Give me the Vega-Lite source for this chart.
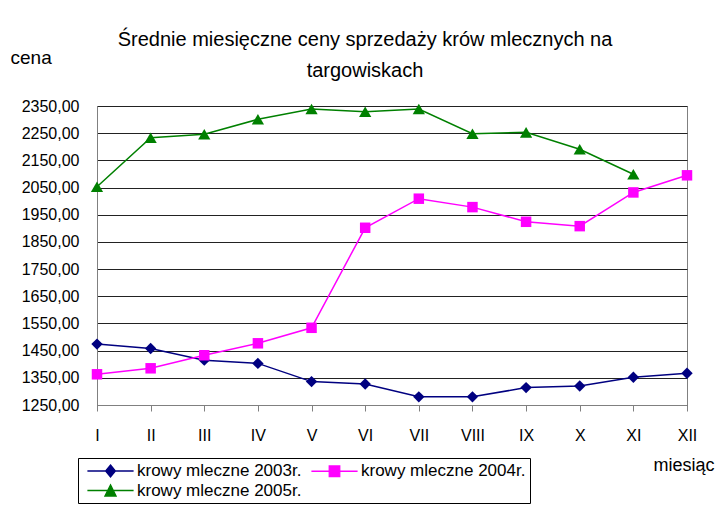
{
  "$schema": "https://vega.github.io/schema/vega-lite/v6.json",
  "width": 590,
  "height": 299,
  "autosize": "none",
  "padding": {"left": 97, "top": 106, "right": 30, "bottom": 105},
  "background": "white",
  "title": {
    "text": ["Średnie miesięczne ceny sprzedaży krów mlecznych na", "targowiskach"],
    "font": "Liberation Sans",
    "fontSize": 20,
    "fontWeight": "normal",
    "color": "black",
    "anchor": "middle",
    "dx": -27,
    "offset": -33,
    "lineHeight": 31
  },
  "data": {
    "values": [
      {"m": "I", "s": "krowy mleczne 2003r.", "v": 1474},
      {"m": "II", "s": "krowy mleczne 2003r.", "v": 1458},
      {"m": "III", "s": "krowy mleczne 2003r.", "v": 1415},
      {"m": "IV", "s": "krowy mleczne 2003r.", "v": 1403},
      {"m": "V", "s": "krowy mleczne 2003r.", "v": 1336},
      {"m": "VI", "s": "krowy mleczne 2003r.", "v": 1327},
      {"m": "VII", "s": "krowy mleczne 2003r.", "v": 1280},
      {"m": "VIII", "s": "krowy mleczne 2003r.", "v": 1280},
      {"m": "IX", "s": "krowy mleczne 2003r.", "v": 1314},
      {"m": "X", "s": "krowy mleczne 2003r.", "v": 1320},
      {"m": "XI", "s": "krowy mleczne 2003r.", "v": 1352},
      {"m": "XII", "s": "krowy mleczne 2003r.", "v": 1367},
      {"m": "I", "s": "krowy mleczne 2004r.", "v": 1363},
      {"m": "II", "s": "krowy mleczne 2004r.", "v": 1385},
      {"m": "III", "s": "krowy mleczne 2004r.", "v": 1433},
      {"m": "IV", "s": "krowy mleczne 2004r.", "v": 1477},
      {"m": "V", "s": "krowy mleczne 2004r.", "v": 1534},
      {"m": "VI", "s": "krowy mleczne 2004r.", "v": 1902},
      {"m": "VII", "s": "krowy mleczne 2004r.", "v": 2009},
      {"m": "VIII", "s": "krowy mleczne 2004r.", "v": 1978},
      {"m": "IX", "s": "krowy mleczne 2004r.", "v": 1924},
      {"m": "X", "s": "krowy mleczne 2004r.", "v": 1908},
      {"m": "XI", "s": "krowy mleczne 2004r.", "v": 2032},
      {"m": "XII", "s": "krowy mleczne 2004r.", "v": 2095},
      {"m": "I", "s": "krowy mleczne 2005r.", "v": 2053},
      {"m": "II", "s": "krowy mleczne 2005r.", "v": 2233},
      {"m": "III", "s": "krowy mleczne 2005r.", "v": 2246},
      {"m": "IV", "s": "krowy mleczne 2005r.", "v": 2301},
      {"m": "V", "s": "krowy mleczne 2005r.", "v": 2339},
      {"m": "VI", "s": "krowy mleczne 2005r.", "v": 2329},
      {"m": "VII", "s": "krowy mleczne 2005r.", "v": 2339},
      {"m": "VIII", "s": "krowy mleczne 2005r.", "v": 2248},
      {"m": "IX", "s": "krowy mleczne 2005r.", "v": 2253},
      {"m": "X", "s": "krowy mleczne 2005r.", "v": 2191},
      {"m": "XI", "s": "krowy mleczne 2005r.", "v": 2099}
    ]
  },
  "encoding": {
    "x": {
      "field": "m",
      "type": "ordinal",
      "sort": ["I", "II", "III", "IV", "V", "VI", "VII", "VIII", "IX", "X", "XI", "XII"],
      "scale": {"type": "point", "padding": 0},
      "axis": {
        "title": "miesiąc",
        "titleFont": "Liberation Sans",
        "titleFontSize": 18,
        "titleFontWeight": "normal",
        "titleColor": "black",
        "titleX": 556,
        "titleY": 60,
        "titleAlign": "left",
        "titleBaseline": "middle",
        "labelAngle": 0,
        "labelFont": "Liberation Sans",
        "labelFontSize": 16,
        "labelColor": "black",
        "labelPadding": 16,
        "tickSize": 6,
        "tickColor": "#808080",
        "domainColor": "#808080",
        "grid": false
      }
    },
    "y": {
      "field": "v",
      "type": "quantitative",
      "scale": {"domain": [1250, 2350], "nice": false, "zero": false},
      "axis": {
        "title": "cena",
        "titleFont": "Liberation Sans",
        "titleFontSize": 19,
        "titleFontWeight": "normal",
        "titleColor": "black",
        "titleAngle": 0,
        "titleX": -87,
        "titleY": -49,
        "titleAlign": "left",
        "titleBaseline": "middle",
        "values": [1250, 1350, 1450, 1550, 1650, 1750, 1850, 1950, 2050, 2150, 2250, 2350],
        "labelExpr": "replace(format(datum.value, '.2f'), '.', ',')",
        "labelFont": "Liberation Sans",
        "labelFontSize": 16,
        "labelColor": "black",
        "labelPadding": 18,
        "ticks": false,
        "domainColor": "#808080",
        "grid": true,
        "gridColor": "#222222",
        "gridWidth": 1
      }
    },
    "color": {
      "field": "s",
      "type": "nominal",
      "scale": {"domain": ["krowy mleczne 2003r.", "krowy mleczne 2004r.", "krowy mleczne 2005r."], "range": ["#000080", "#ff00ff", "#008000"]},
      "legend": {
        "title": null,
        "orient": "none",
        "legendX": -19,
        "legendY": 352,
        "columns": 2,
        "direction": "horizontal",
        "strokeColor": "black",
        "fillColor": "white",
        "padding": 4,
        "columnPadding": 4,
        "rowPadding": 1,
        "labelFont": "Liberation Sans",
        "labelFontSize": 17,
        "labelLimit": 300,
        "labelColor": "black",
        "symbolSize": 196,
        "symbolOffset": 20,
        "labelOffset": 18,
        "symbolStrokeWidth": 1.3,
        "encode": {
          "symbols": {
            "update": {
              "shape": {"signal": "datum.value == 'krowy mleczne 2003r.' ? 'M-3.3,0H3.3M0,-0.85L0.7,0L0,0.85L-0.7,0Z' : datum.value == 'krowy mleczne 2004r.' ? 'M-3.3,0H3.3M-0.75,-0.75H0.75V0.75H-0.75Z' : 'M-3.3,0H3.3M0,-0.8L0.8,0.8H-0.8Z'"},
              "fill": {"signal": "datum.value == 'krowy mleczne 2003r.' ? '#000080' : datum.value == 'krowy mleczne 2004r.' ? '#ff00ff' : '#008000'"},
              "stroke": {"signal": "datum.value == 'krowy mleczne 2003r.' ? '#000080' : datum.value == 'krowy mleczne 2004r.' ? '#ff00ff' : '#008000'"},
              "size": {"value": 196},
              "opacity": {"value": 1},
              "fillOpacity": {"value": 1},
              "strokeOpacity": {"value": 1}
            }
          }
        }
      }
    }
  },
  "layer": [
    {
      "mark": {"type": "line", "strokeWidth": 1.5}
    },
    {
      "transform": [{"filter": "datum.s == 'krowy mleczne 2003r.'"}],
      "mark": {"type": "point", "filled": true, "opacity": 1, "shape": "diamond", "size": 130}
    },
    {
      "transform": [{"filter": "datum.s == 'krowy mleczne 2004r.'"}],
      "mark": {"type": "point", "filled": true, "opacity": 1, "shape": "square", "size": 110}
    },
    {
      "transform": [{"filter": "datum.s == 'krowy mleczne 2005r.'"}],
      "mark": {"type": "point", "filled": true, "opacity": 1, "shape": "triangle-up", "size": 150}
    }
  ],
  "config": {
    "view": {"stroke": "#808080"}
  }
}
